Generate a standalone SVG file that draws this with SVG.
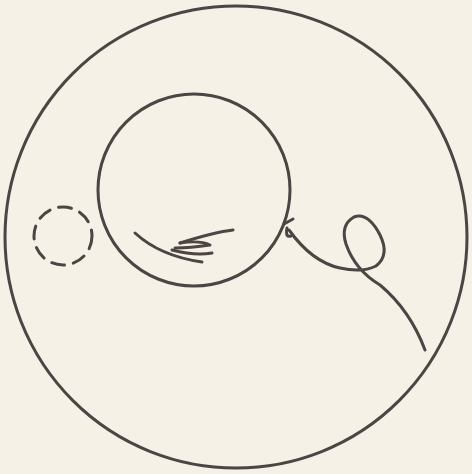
<svg xmlns="http://www.w3.org/2000/svg" width="472" height="474" viewBox="0 0 472 474">
<style>
.ink{fill:none;stroke:#4d4444;stroke-width:3;stroke-linecap:round;stroke-linejoin:round}
</style>
<rect width="472" height="474" fill="#f6f1e6"/>
<circle class="ink" cx="236" cy="237" r="231"/>
<circle class="ink" cx="194" cy="190" r="96"/>
<circle class="ink" cx="63" cy="236" r="29" stroke-dasharray="13,9"/>
<path class="ink" d="M135,233 Q160,256 202,262"/>
<path class="ink" d="M172,250 Q195,256 212,253"/>
<path class="ink" d="M180,243 Q215,232 233,230"/>
<path class="ink" d="M180,243 Q200,240 210,245 Q190,248 175,248"/>
<path class="ink" d="M284,224 L293,219 M287,228 Q285,238 291,236"/>
<path class="ink" d="M289,230 Q312,262 340,268 Q362,273 376,266 Q390,255 380,235 Q368,212 354,217 Q340,225 346,244 Q355,270 380,285 Q410,310 425,350"/>
</svg>
